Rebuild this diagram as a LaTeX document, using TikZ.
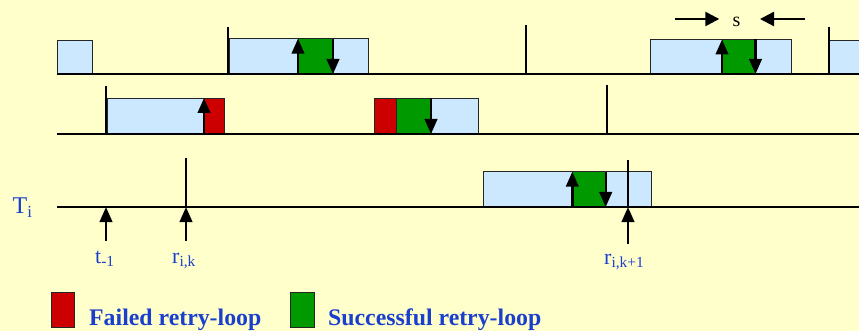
\documentclass[tikz,border=0pt]{standalone}
\usepackage{fontspec}
\setmainfont{Liberation Serif}
\usetikzlibrary{arrows.meta}
\definecolor{bg}{HTML}{FFFFCC}
\definecolor{lblue}{HTML}{CCE8FF}
\definecolor{okgreen}{HTML}{009900}
\definecolor{badred}{HTML}{CC0000}
\definecolor{txtblue}{HTML}{1A3FCC}
\begin{document}
\begin{tikzpicture}[x=1pt,y=-1pt,
  seg/.style={draw=black!85,line width=0.9pt},
  run/.style={seg,fill=lblue},
  ok/.style={seg,fill=okgreen},
  bad/.style={seg,fill=badred},
  axis/.style={line width=2.2pt},
  tickline/.style={line width=2pt},
  sig/.style={line width=2.4pt,-{Triangle[length=15pt 0,width=12.5pt 0]}},
  sigw/.style={line width=2.4pt,-{Triangle[length=14pt 0,width=14pt 0]}},
  lbl/.style={text=txtblue,font=\fontsize{22}{26}\selectfont,inner sep=0pt,anchor=base west},
  leg/.style={text=txtblue,font=\bfseries\fontsize{23.8}{28}\selectfont,inner sep=0pt,anchor=base west}]
\fill[bg] (0,0) rectangle (859,331);
\useasboundingbox (0,0) rectangle (859,331);

% ---------- row 1 ----------
\draw[run] (57,40.5) rectangle (92,74);
\draw[run] (229,38.7) rectangle (368,74);
\draw[ok] (298,38.7) rectangle (333,74);
\draw[run] (650,39.5) rectangle (791,74);
\draw[ok] (722,39.5) rectangle (755.5,74);
\draw[run] (829,40.5) rectangle (866,74);
\coordinate (a1s) at (57,74); \coordinate (a1e) at (859,74);
\draw[axis] (a1s) -- (a1e);
\coordinate (k1a) at (228,27); \coordinate (k1b) at (228,74);
\coordinate (k2a) at (526,25); \coordinate (k2b) at (526,74);
\coordinate (k3a) at (829,26.7); \coordinate (k3b) at (829,74);
\draw[tickline] (k1a) -- (k1b);
\draw[tickline] (k2a) -- (k2b);
\draw[tickline] (k3a) -- (k3b);
\coordinate (u1b) at (298,74); \coordinate (u1t) at (298,38.7);
\coordinate (d1t) at (333,38.7); \coordinate (d1b) at (333,74);
\draw[sig] (u1b) -- (u1t);
\draw[sig] (d1t) -- (d1b);
\coordinate (u2b) at (722,74); \coordinate (u2t) at (722,39.5);
\coordinate (d2t) at (755.5,39.5); \coordinate (d2b) at (755.5,74);
\draw[sig] (u2b) -- (u2t);
\draw[sig] (d2t) -- (d2b);
\node[inner sep=0pt,anchor=base west,font=\fontsize{20}{24}\selectfont] (s) at (732.5,26.7) {s};
\coordinate (sl) at (675,19); \coordinate (slt) at (719.3,19);
\coordinate (sr) at (805,19); \coordinate (srt) at (760,19);
\draw[sigw] (sl) -- (slt);
\draw[sigw] (sr) -- (srt);

% ---------- row 2 ----------
\draw[run] (107,98) rectangle (204,134);
\draw[bad] (204,98) rectangle (224,134);
\draw[bad] (374,98) rectangle (396.5,134);
\draw[ok] (396.5,98) rectangle (431,134);
\draw[run] (431,98) rectangle (478,134);
\coordinate (a2s) at (57,134); \coordinate (a2e) at (859,134);
\draw[axis] (a2s) -- (a2e);
\coordinate (k4a) at (106,86); \coordinate (k4b) at (106,134);
\coordinate (k5a) at (606.7,85); \coordinate (k5b) at (606.7,134);
\draw[tickline] (k4a) -- (k4b);
\draw[tickline] (k5a) -- (k5b);
\coordinate (u3b) at (204,134); \coordinate (u3t) at (204,98);
\draw[sig] (u3b) -- (u3t);
\coordinate (d3t) at (431,98); \coordinate (d3b) at (431,134);
\draw[sig] (d3t) -- (d3b);

% ---------- row 3 ----------
\draw[run] (483.3,171.7) rectangle (651.3,207);
\draw[ok] (572.3,171.7) rectangle (605.7,207);
\coordinate (a3s) at (57,207); \coordinate (a3e) at (859,207);
\draw[axis] (a3s) -- (a3e);
\coordinate (k6a) at (186,158); \coordinate (k6b) at (186,207);
\coordinate (k7a) at (628,160); \coordinate (k7b) at (628,207);
\draw[tickline] (k6a) -- (k6b);
\draw[tickline] (k7a) -- (k7b);
\coordinate (u4b) at (572.3,207); \coordinate (u4t) at (572.3,171.7);
\coordinate (d4t) at (605.7,171.7); \coordinate (d4b) at (605.7,207);
\draw[sig] (u4b) -- (u4t);
\draw[sig] (d4t) -- (d4b);
\coordinate (p1b) at (106,241); \coordinate (p1t) at (106,207);
\coordinate (p2b) at (186,241); \coordinate (p2t) at (186,207);
\coordinate (p3b) at (628,244); \coordinate (p3t) at (628,207);
\draw[sig] (p1b) -- (p1t);
\draw[sig] (p2b) -- (p2t);
\draw[sig] (p3b) -- (p3t);

% ---------- labels ----------
\node[lbl,font=\fontsize{24}{28}\selectfont] (Ti) at (12.5,213.3) {T\textsubscript{i}};
\node[lbl] (tm1) at (95,263.3) {t\textsubscript{-1}};
\node[lbl] (rik) at (172,263.3) {r\textsubscript{i,k}};
\node[lbl] (rik1) at (604,264.3) {r\textsubscript{i,k+1}};

% ---------- legend ----------
\draw[bad] (51,292.3) rectangle (74.3,327.7);
\node[leg] (lf) at (89,325.7) {Failed retry-loop};
\draw[ok] (290.7,292.3) rectangle (314,327.7);
\node[leg] (ls) at (328,325.7) {Successful retry-loop};
\end{tikzpicture}
\end{document}
